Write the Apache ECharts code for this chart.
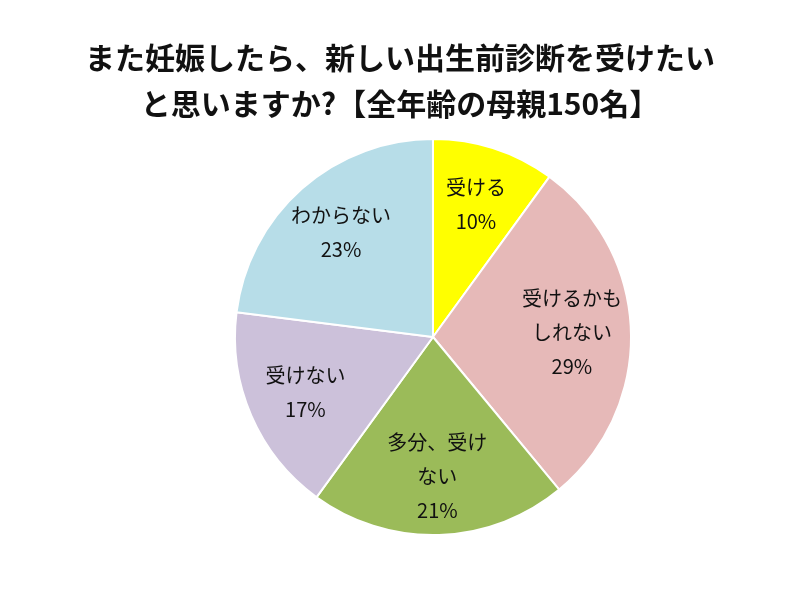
<!DOCTYPE html>
<html><head><meta charset="utf-8">
<script src="https://cdn.jsdelivr.net/npm/echarts@6/dist/echarts.min.js"></script>
<style>html,body{margin:0;background:#fff}#c{width:800px;height:600px}</style>
</head><body><div id="c"></div>
<script>
const titleLines = ['また妊娠したら、新しい出生前診断を受けたい', 'と思いますか?【全年齢の母親150名】'];
const categories = ['受ける', '受けるかも\nしれない', '多分、受け\nない', '受けない', 'わからない'];
const values = [10, 29, 21, 17, 23];
const colors = ['#FFFF00', '#E6B9B8', '#9BBB59', '#CCC1DA', '#B7DDE8'];

const data = categories.map((n, i) => ({ name: n, value: values[i], itemStyle: { color: colors[i] } }));
const font = '"Noto Sans CJK JP", sans-serif';
const chart = echarts.init(document.getElementById('c'));
chart.setOption({
  animation: false,
  title: {
    text: titleLines.join('\n'), left: 'center', top: 30,
    textStyle: { fontFamily: font, fontSize: 30, fontWeight: 'bold', color: '#111', lineHeight: 46 }
  },
  series: [{
    type: 'pie', center: [433, 337], radius: [0, 198], startAngle: 90, clockwise: true,
    data: data, label: { show: false }, labelLine: { show: false },
    itemStyle: { borderColor: '#fff', borderWidth: 2 }, silent: true
  }, {
    type: 'pie', center: [433, 337], radius: [0, 272], startAngle: 90, clockwise: true,
    data: data.map(d => ({ name: d.name, value: d.value })), silent: true,
    itemStyle: { color: 'rgba(0,0,0,0)' },
    label: { show: true, position: 'inside', formatter: '{b}\n{d}%', fontFamily: font, fontSize: 20, color: '#111', lineHeight: 34 },
    labelLine: { show: false }
  }]
});
</script></body></html>
